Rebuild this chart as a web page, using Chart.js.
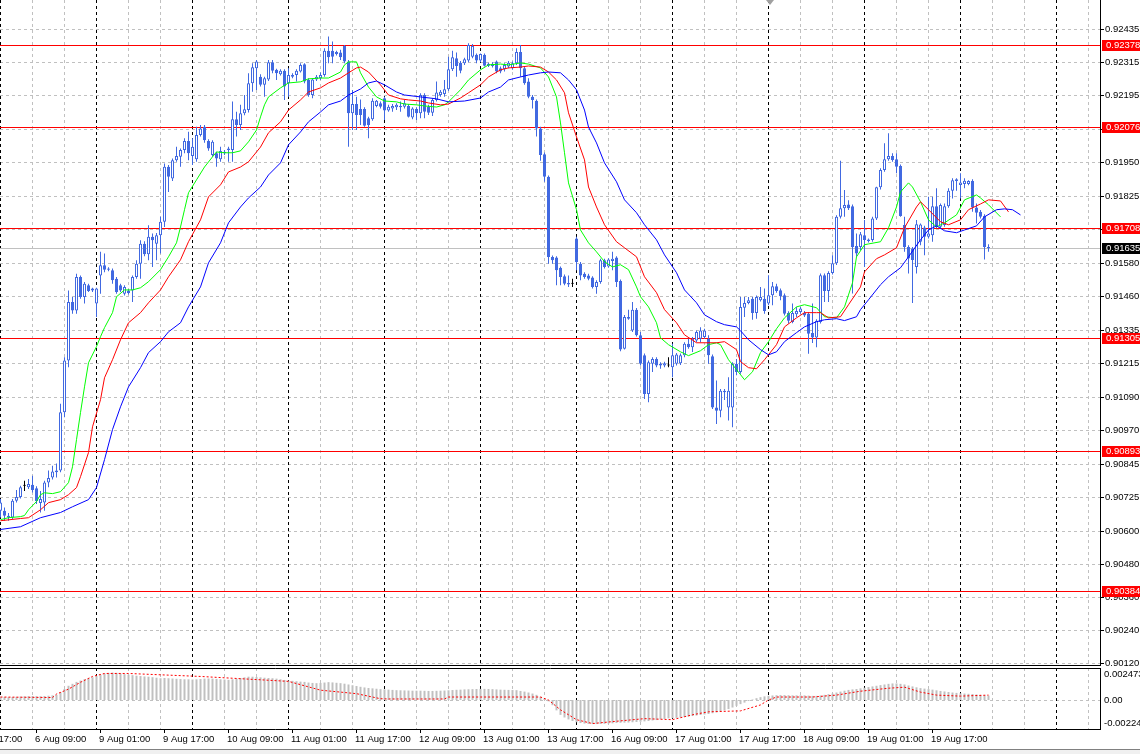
<!DOCTYPE html>
<html>
<head>
<meta charset="utf-8">
<script src="https://cdn.jsdelivr.net/npm/chart.js@4.4.0/dist/chart.umd.min.js"></script>
<style>
  html, body { margin: 0; padding: 0; background: #fff; width: 1140px; height: 754px; overflow: hidden; }
  canvas { position: absolute; left: 0; }
  #main { top: 0; }
  #sub { top: 667px; }
</style>
</head>
<body>
<canvas id="main" width="1140" height="667"></canvas>
<canvas id="sub" width="1140" height="87"></canvas>
<script>
// H1 bars, bar 0 = 6 Aug 00:00
const opens = [
  0.90675,0.90675,0.90657,0.90651,0.90712,0.90726,0.90767,0.90761,0.90770,0.90758,
  0.90704,0.90706,0.90779,0.90797,0.90816,0.90822,0.91035,0.91224,0.91438,0.91407,
  0.91529,0.91456,0.91499,0.91480,0.91432,0.91535,0.91572,0.91556,0.91554,0.91523,
  0.91499,0.91468,0.91480,0.91480,0.91529,0.91578,0.91651,0.91612,0.91676,0.91651,
  0.91682,0.91731,0.91932,0.91889,0.91956,0.91968,0.91993,0.92026,0.91971,0.91959,
  0.92048,0.92078,0.92026,0.91975,0.91981,0.91959,0.91981,0.91993,0.91993,0.92105,
  0.92084,0.92127,0.92139,0.92237,0.92292,0.92261,0.92231,0.92251,0.92314,0.92286,
  0.92270,0.92283,0.92237,0.92267,0.92267,0.92280,0.92306,0.92249,0.92194,0.92251,
  0.92255,0.92267,0.92356,0.92356,0.92351,0.92349,0.92373,0.92316,0.92127,0.92161,
  0.92143,0.92143,0.92109,0.92105,0.92154,0.92164,0.92182,0.92137,0.92145,0.92149,
  0.92154,0.92151,0.92154,0.92112,0.92143,0.92127,0.92194,0.92151,0.92129,0.92176,
  0.92194,0.92198,0.92215,0.92288,0.92328,0.92312,0.92310,0.92320,0.92334,0.92341,
  0.92320,0.92341,0.92301,0.92308,0.92316,0.92292,0.92288,0.92298,0.92292,0.92310,
  0.92351,0.92292,0.92243,0.92188,0.92173,0.92072,0.91978,0.91895,0.91602,0.91600,
  0.91563,0.91532,0.91507,0.91505,0.91670,0.91578,0.91541,0.91535,0.91527,0.91493,
  0.91511,0.91590,0.91568,0.91588,0.91600,0.91515,0.91267,0.91383,0.91334,0.91410,
  0.91316,0.91243,0.91102,0.91212,0.91230,0.91212,0.91206,0.91206,0.91200,0.91212,
  0.91214,0.91243,0.91285,0.91273,0.91297,0.91304,0.91310,0.91304,0.91240,0.91053,
  0.91041,0.91114,0.91053,0.91053,0.91212,0.91182,0.91417,0.91434,0.91450,0.91398,
  0.91444,0.91450,0.91432,0.91463,0.91495,0.91481,0.91463,0.91398,0.91365,0.91393,
  0.91401,0.91398,0.91395,0.91325,0.91308,0.91365,0.91536,0.91478,0.91544,0.91579,
  0.91749,0.91780,0.91794,0.91788,0.91642,0.91639,0.91682,0.91666,0.91664,0.91743,
  0.91857,0.91920,0.91959,0.91971,0.91959,0.91935,0.91719,0.91639,0.91633,0.91566,
  0.91658,0.91710,0.91676,0.91682,0.91788,0.91713,0.91719,0.91788,0.91844,0.91880,
  0.91865,0.91869,0.91869,0.91880,0.91783,0.91768,0.91752,0.91639
];
const highs = [
  0.90718,0.90687,0.90667,0.90718,0.90751,0.90767,0.90785,0.90791,0.90803,0.90765,
  0.90748,0.90785,0.90822,0.90840,0.90848,0.91066,0.91236,0.91480,0.91456,0.91541,
  0.91535,0.91511,0.91505,0.91490,0.91490,0.91621,0.91615,0.91565,0.91560,0.91529,
  0.91505,0.91499,0.91485,0.91535,0.91590,0.91663,0.91660,0.91718,0.91688,0.91690,
  0.91749,0.91944,0.91938,0.91962,0.92005,0.91999,0.92036,0.92060,0.92036,0.92078,
  0.92084,0.92084,0.92032,0.92029,0.91987,0.92005,0.91993,0.92005,0.92170,0.92133,
  0.92158,0.92194,0.92273,0.92310,0.92322,0.92270,0.92261,0.92322,0.92322,0.92290,
  0.92288,0.92288,0.92292,0.92273,0.92288,0.92310,0.92310,0.92255,0.92255,0.92267,
  0.92276,0.92365,0.92408,0.92389,0.92356,0.92359,0.92377,0.92322,0.92212,0.92188,
  0.92178,0.92149,0.92115,0.92182,0.92176,0.92170,0.92188,0.92158,0.92161,0.92164,
  0.92170,0.92176,0.92161,0.92149,0.92149,0.92200,0.92200,0.92158,0.92182,0.92243,
  0.92212,0.92249,0.92334,0.92356,0.92349,0.92318,0.92330,0.92383,0.92380,0.92346,
  0.92346,0.92346,0.92312,0.92314,0.92320,0.92298,0.92310,0.92318,0.92316,0.92365,
  0.92377,0.92298,0.92255,0.92194,0.92178,0.92078,0.91984,0.91900,0.91608,0.91605,
  0.91568,0.91538,0.91535,0.91523,0.91676,0.91584,0.91547,0.91541,0.91532,0.91517,
  0.91596,0.91596,0.91598,0.91621,0.91605,0.91520,0.91390,0.91410,0.91438,0.91416,
  0.91328,0.91250,0.91224,0.91236,0.91236,0.91218,0.91220,0.91236,0.91285,0.91252,
  0.91250,0.91291,0.91304,0.91310,0.91334,0.91346,0.91340,0.91316,0.91246,0.91151,
  0.91120,0.91120,0.91163,0.91218,0.91230,0.91456,0.91456,0.91456,0.91456,0.91462,
  0.91493,0.91487,0.91536,0.91511,0.91505,0.91487,0.91469,0.91404,0.91432,0.91420,
  0.91420,0.91405,0.91401,0.91432,0.91375,0.91542,0.91542,0.91550,0.91609,0.91755,
  0.91954,0.91847,0.91810,0.91794,0.91688,0.91694,0.91737,0.91670,0.91749,0.91859,
  0.91926,0.92018,0.92054,0.91981,0.91981,0.91940,0.91749,0.91645,0.91639,0.91737,
  0.91725,0.91716,0.91822,0.91822,0.91853,0.91798,0.91798,0.91853,0.91890,0.91890,
  0.91908,0.91890,0.91883,0.91886,0.91798,0.91774,0.91758,0.91649
];
const lows = [
  0.90651,0.90639,0.90639,0.90645,0.90706,0.90720,0.90748,0.90755,0.90742,0.90700,
  0.90669,0.90675,0.90761,0.90790,0.90797,0.90816,0.91017,0.91200,0.91395,0.91395,
  0.91450,0.91432,0.91474,0.91474,0.91383,0.91468,0.91547,0.91550,0.91505,0.91468,
  0.91474,0.91462,0.91465,0.91438,0.91523,0.91523,0.91605,0.91590,0.91566,0.91590,
  0.91615,0.91712,0.91840,0.91880,0.91950,0.91932,0.91981,0.91956,0.91938,0.91950,
  0.92042,0.92020,0.91990,0.91968,0.91932,0.91950,0.91975,0.91950,0.91950,0.92042,
  0.92066,0.92120,0.92130,0.92206,0.92212,0.92225,0.92188,0.92245,0.92273,0.92249,
  0.92265,0.92176,0.92188,0.92255,0.92243,0.92276,0.92237,0.92188,0.92182,0.92245,
  0.92249,0.92261,0.92310,0.92310,0.92338,0.92322,0.92310,0.92005,0.92066,0.92066,
  0.92084,0.92078,0.92036,0.92100,0.92149,0.92145,0.92103,0.92133,0.92133,0.92139,
  0.92133,0.92145,0.92112,0.92105,0.92103,0.92109,0.92109,0.92121,0.92117,0.92170,
  0.92188,0.92188,0.92209,0.92282,0.92261,0.92273,0.92304,0.92314,0.92328,0.92310,
  0.92314,0.92298,0.92296,0.92294,0.92273,0.92273,0.92280,0.92292,0.92286,0.92304,
  0.92261,0.92231,0.92182,0.92145,0.92042,0.91954,0.91877,0.91578,0.91578,0.91499,
  0.91499,0.91499,0.91493,0.91493,0.91554,0.91517,0.91523,0.91517,0.91487,0.91468,
  0.91505,0.91560,0.91563,0.91554,0.91493,0.91258,0.91264,0.91373,0.91328,0.91312,
  0.91206,0.91084,0.91072,0.91182,0.91200,0.91194,0.91200,0.91200,0.91163,0.91206,
  0.91208,0.91236,0.91267,0.91255,0.91291,0.91291,0.91304,0.91212,0.91047,0.90992,
  0.91017,0.91080,0.91005,0.90980,0.91170,0.91176,0.91383,0.91430,0.91373,0.91377,
  0.91440,0.91395,0.91426,0.91426,0.91472,0.91444,0.91389,0.91359,0.91360,0.91383,
  0.91395,0.91383,0.91249,0.91288,0.91273,0.91359,0.91438,0.91438,0.91538,0.91573,
  0.91743,0.91749,0.91774,0.91469,0.91603,0.91627,0.91566,0.91655,0.91658,0.91737,
  0.91849,0.91914,0.91954,0.91950,0.91908,0.91749,0.91621,0.91542,0.91434,0.91542,
  0.91645,0.91609,0.91670,0.91658,0.91707,0.91707,0.91713,0.91782,0.91816,0.91844,
  0.91816,0.91853,0.91864,0.91768,0.91725,0.91743,0.91593,0.91621
];
const closes = [
  0.90706,0.90657,0.90651,0.90712,0.90726,0.90761,0.90767,0.90773,0.90751,0.90710,
  0.90718,0.90779,0.90795,0.90819,0.90822,0.91035,0.91224,0.91438,0.91407,0.91529,
  0.91456,0.91505,0.91478,0.91487,0.91487,0.91572,0.91556,0.91560,0.91517,0.91474,
  0.91480,0.91493,0.91471,0.91529,0.91578,0.91651,0.91612,0.91676,0.91663,0.91682,
  0.91731,0.91932,0.91895,0.91956,0.91971,0.91993,0.92026,0.91981,0.92005,0.92048,
  0.92072,0.92029,0.91999,0.92023,0.91962,0.91989,0.91987,0.91999,0.92105,0.92084,
  0.92127,0.92142,0.92237,0.92295,0.92316,0.92231,0.92255,0.92314,0.92283,0.92273,
  0.92283,0.92225,0.92267,0.92261,0.92283,0.92304,0.92243,0.92194,0.92251,0.92261,
  0.92267,0.92356,0.92332,0.92334,0.92344,0.92332,0.92316,0.92127,0.92161,0.92121,
  0.92121,0.92082,0.92084,0.92173,0.92173,0.92151,0.92137,0.92151,0.92154,0.92158,
  0.92149,0.92164,0.92115,0.92145,0.92127,0.92194,0.92133,0.92129,0.92176,0.92203,
  0.92206,0.92215,0.92288,0.92332,0.92300,0.92283,0.92325,0.92377,0.92373,0.92320,
  0.92344,0.92301,0.92308,0.92300,0.92280,0.92280,0.92304,0.92312,0.92310,0.92351,
  0.92292,0.92237,0.92188,0.92176,0.92072,0.91975,0.91895,0.91602,0.91590,0.91554,
  0.91529,0.91505,0.91502,0.91505,0.91584,0.91535,0.91529,0.91523,0.91493,0.91511,
  0.91590,0.91566,0.91593,0.91596,0.91511,0.91264,0.91383,0.91377,0.91410,0.91316,
  0.91212,0.91102,0.91218,0.91230,0.91206,0.91206,0.91214,0.91206,0.91243,0.91246,
  0.91243,0.91285,0.91273,0.91304,0.91328,0.91334,0.91334,0.91243,0.91053,0.91041,
  0.91114,0.91108,0.91114,0.91212,0.91182,0.91420,0.91434,0.91444,0.91398,0.91456,
  0.91456,0.91405,0.91463,0.91495,0.91478,0.91459,0.91395,0.91369,0.91398,0.91405,
  0.91414,0.91389,0.91322,0.91308,0.91369,0.91536,0.91478,0.91544,0.91579,0.91749,
  0.91780,0.91792,0.91780,0.91639,0.91615,0.91685,0.91664,0.91661,0.91743,0.91857,
  0.91920,0.91959,0.91971,0.91957,0.91932,0.91752,0.91639,0.91597,0.91591,0.91722,
  0.91721,0.91676,0.91688,0.91788,0.91713,0.91792,0.91788,0.91844,0.91883,0.91886,
  0.91874,0.91881,0.91880,0.91783,0.91764,0.91749,0.91639,0.91635
];

// Alligator lines (already shifted forward), read every few bars
const jawBars = [0,5,10,15,18,22,24,26,28,30,32,35,37,40,42,45,47,50,52,55,57,60,62,65,67,70,72,75,77,80,82,85,87,90,92,94,96,99,101,105,109,112,116,120,122,125,127,130,132,135,137,140,142,144,146,147,149,151,154,156,159,161,164,166,169,171,174,176,179,181,184,185,187,190,192,194,196,199,201,204,206,209,211,214,215,217,220,222,225,227,230,232,234,236,239,241,244,246,249,251,253,255];
const jawVals = [0.90607,0.90617,0.90650,0.90669,0.90690,0.90716,0.90760,0.90862,0.90972,0.91055,0.91128,0.91198,0.91253,0.91293,0.91329,0.91362,0.91420,0.91493,0.91581,0.91654,0.91727,0.91785,0.91818,0.91858,0.91902,0.91946,0.92012,0.92059,0.92096,0.92132,0.92158,0.92172,0.92194,0.92216,0.92238,0.92245,0.92231,0.92205,0.92194,0.92187,0.92180,0.92169,0.92172,0.92183,0.92205,0.92223,0.92249,0.92260,0.92267,0.92275,0.92278,0.92275,0.92249,0.92213,0.92139,0.92077,0.92019,0.91946,0.91877,0.91811,0.91764,0.91720,0.91665,0.91610,0.91545,0.91482,0.91435,0.91391,0.91366,0.91355,0.91347,0.91333,0.91300,0.91264,0.91245,0.91256,0.91293,0.91326,0.91347,0.91366,0.91373,0.91377,0.91370,0.91384,0.91410,0.91446,0.91501,0.91530,0.91563,0.91603,0.91665,0.91701,0.91716,0.91698,0.91691,0.91701,0.91716,0.91749,0.91775,0.91778,0.91775,0.91756];
const teethBars = [0,5,7,10,12,15,17,19,20,22,23,25,26,28,30,32,35,37,40,42,45,47,50,52,55,57,60,62,65,67,70,72,75,77,80,82,85,87,89,90,92,95,97,100,102,105,107,110,112,115,117,120,122,125,127,130,132,135,137,139,141,142,144,146,147,149,151,154,156,159,161,164,166,169,171,174,176,179,181,184,185,187,189,191,194,196,199,201,204,205,207,210,212,215,216,219,221,224,226,229,230,232,235,237,240,242,245,247,250,252];
const teethVals = [0.90639,0.90647,0.90650,0.90679,0.90705,0.90716,0.90734,0.90760,0.90800,0.90888,0.90982,0.91081,0.91161,0.91227,0.91300,0.91362,0.91399,0.91435,0.91482,0.91530,0.91592,0.91658,0.91738,0.91822,0.91866,0.91913,0.91931,0.91950,0.92004,0.92056,0.92096,0.92139,0.92176,0.92205,0.92220,0.92238,0.92256,0.92275,0.92293,0.92296,0.92278,0.92231,0.92194,0.92180,0.92176,0.92172,0.92165,0.92158,0.92161,0.92183,0.92202,0.92231,0.92260,0.92286,0.92293,0.92296,0.92300,0.92296,0.92278,0.92249,0.92202,0.92129,0.92041,0.91957,0.91858,0.91785,0.91720,0.91658,0.91636,0.91603,0.91530,0.91472,0.91410,0.91362,0.91318,0.91289,0.91289,0.91289,0.91293,0.91264,0.91220,0.91198,0.91194,0.91227,0.91282,0.91347,0.91380,0.91399,0.91399,0.91399,0.91380,0.91384,0.91428,0.91493,0.91548,0.91596,0.91610,0.91636,0.91709,0.91785,0.91804,0.91775,0.91731,0.91720,0.91738,0.91775,0.91796,0.91811,0.91807,0.91767];
const lipsBars = [0,2,5,6,7,9,10,11,13,15,17,18,19,20,21,22,24,25,26,28,29,31,33,35,37,40,42,44,45,46,47,49,51,53,54,56,58,60,62,64,65,66,67,70,72,75,77,80,82,85,86,87,89,90,92,94,96,99,101,104,106,109,111,112,115,117,120,122,125,127,130,132,135,137,139,140,141,142,144,145,147,149,151,153,155,157,159,160,162,164,165,167,170,172,175,177,179,180,182,184,186,188,190,192,194,196,199,201,204,206,209,211,213,214,216,217,220,222,224,225,227,228,230,232,234,236,239,241,244,245,247,250];
const lipsVals = [0.90643,0.90650,0.90654,0.90658,0.90679,0.90709,0.90734,0.90741,0.90738,0.90745,0.90778,0.90836,0.90935,0.91034,0.91128,0.91216,0.91275,0.91311,0.91344,0.91399,0.91457,0.91482,0.91482,0.91490,0.91512,0.91556,0.91603,0.91654,0.91712,0.91775,0.91837,0.91884,0.91931,0.91968,0.91986,0.91983,0.91983,0.91990,0.92023,0.92066,0.92114,0.92158,0.92187,0.92220,0.92238,0.92242,0.92253,0.92256,0.92256,0.92278,0.92304,0.92315,0.92315,0.92275,0.92223,0.92187,0.92172,0.92169,0.92161,0.92158,0.92154,0.92150,0.92158,0.92169,0.92213,0.92249,0.92286,0.92304,0.92307,0.92304,0.92311,0.92307,0.92293,0.92260,0.92187,0.92092,0.91983,0.91873,0.91775,0.91701,0.91654,0.91621,0.91585,0.91566,0.91574,0.91556,0.91493,0.91457,0.91420,0.91362,0.91307,0.91282,0.91256,0.91242,0.91260,0.91282,0.91289,0.91282,0.91227,0.91191,0.91154,0.91183,0.91253,0.91293,0.91340,0.91380,0.91420,0.91428,0.91417,0.91384,0.91380,0.91420,0.91508,0.91603,0.91647,0.91650,0.91658,0.91709,0.91785,0.91840,0.91873,0.91858,0.91804,0.91738,0.91712,0.91727,0.91756,0.91811,0.91829,0.91818,0.91793,0.91749];

// horizontal levels and current bid
const levelPrices = [0.92378, 0.92076, 0.91708, 0.91305, 0.90893, 0.90384];
const bidPrice = 0.91635;

// price scale labels
const priceLabels = ['0.92435','0.92315','0.92195','0.92070','0.91950','0.91825','0.91705','0.91580','0.91460','0.91335',
                     '0.91215','0.91090','0.90970','0.90845','0.90725','0.90600','0.90480','0.90360','0.90240','0.90120'];

// MACD histogram, one value per bar
const macdMain = [
  0.00025,0.00024,0.00022,0.00023,0.00025,0.00027,0.00029,0.00030,0.00031,0.00030,
  0.00029,0.00031,0.00033,0.00036,0.00040,0.00060,0.00085,0.00110,0.00125,0.00140,
  0.00150,0.00160,0.00168,0.00176,0.00185,0.00195,0.00205,0.00210,0.00212,0.00210,
  0.00205,0.00200,0.00196,0.00192,0.00188,0.00185,0.00182,0.00180,0.00176,0.00172,
  0.00168,0.00170,0.00168,0.00166,0.00164,0.00162,0.00160,0.00160,0.00158,0.00160,
  0.00162,0.00165,0.00166,0.00165,0.00163,0.00160,0.00158,0.00156,0.00160,0.00165,
  0.00170,0.00175,0.00180,0.00180,0.00178,0.00175,0.00172,0.00170,0.00168,0.00165,
  0.00160,0.00155,0.00150,0.00148,0.00145,0.00142,0.00140,0.00135,0.00132,0.00130,
  0.00132,0.00135,0.00138,0.00136,0.00133,0.00130,0.00126,0.00120,0.00114,0.00108,
  0.00102,0.00097,0.00093,0.00090,0.00087,0.00084,0.00082,0.00080,0.00078,0.00076,
  0.00075,0.00074,0.00073,0.00072,0.00072,0.00072,0.00071,0.00070,0.00070,0.00071,
  0.00072,0.00073,0.00075,0.00077,0.00079,0.00080,0.00082,0.00083,0.00084,0.00085,
  0.00086,0.00086,0.00085,0.00084,0.00082,0.00080,0.00079,0.00078,0.00077,0.00076,
  0.00070,0.00065,0.00058,0.00050,0.00040,0.00025,0.00010,-0.00010,-0.00040,-0.00080,
  -0.00115,-0.00135,-0.00150,-0.00162,-0.00172,-0.00178,-0.00182,-0.00185,-0.00186,-0.00186,
  -0.00185,-0.00184,-0.00182,-0.00180,-0.00178,-0.00176,-0.00175,-0.00174,-0.00172,-0.00170,
  -0.00168,-0.00165,-0.00162,-0.00158,-0.00155,-0.00150,-0.00146,-0.00142,-0.00140,-0.00138,
  -0.00135,-0.00132,-0.00128,-0.00124,-0.00120,-0.00116,-0.00112,-0.00108,-0.00102,-0.00096,
  -0.00088,-0.00080,-0.00070,-0.00058,-0.00045,-0.00032,-0.00020,-0.00008,0.00004,0.00014,
  0.00022,0.00028,0.00032,0.00035,0.00037,0.00038,0.00038,0.00037,0.00036,0.00036,
  0.00036,0.00036,0.00034,0.00032,0.00032,0.00035,0.00040,0.00045,0.00050,0.00058,
  0.00065,0.00072,0.00078,0.00082,0.00085,0.00090,0.00095,0.00100,0.00105,0.00110,
  0.00115,0.00120,0.00125,0.00128,0.00128,0.00125,0.00120,0.00112,0.00105,0.00098,
  0.00092,0.00088,0.00084,0.00080,0.00075,0.00070,0.00066,0.00062,0.00058,0.00055,
  0.00052,0.00050,0.00048,0.00046,0.00043,0.00040,0.00036,0.00034
];
const signalBars = [0,13,14,17,20,23,26,32,50,72,80,89,95,97,111,112,120,135,137,140,144,148,153,161,168,173,177,185,190,192,194,203,209,215,222,226,230,234,240,247];
const signalVals = [0.00023,0.00019,0.00046,0.00084,0.00137,0.00182,0.00205,0.00205,0.00182,0.00144,0.00076,0.00049,0.00010,0.00008,0.00008,0.00023,0.00023,0.00023,0.00000,-0.00076,-0.00152,-0.00182,-0.00167,-0.00144,-0.00152,-0.00114,-0.00091,-0.00084,-0.00038,0.00000,0.00023,0.00023,0.00038,0.00068,0.00091,0.00099,0.00061,0.00038,0.00030,0.00038];
const macdTopLabel = '0.002473';
const macdBottomLabel = '-0.00224';

// time axis labels
const timeLabelBars = [-7, 9, 25, 41, 57, 73, 89, 105, 121, 137, 153, 169, 185, 201, 217, 233];
const timeLabels = ['5 Aug 17:00','6 Aug 09:00','9 Aug 01:00','9 Aug 17:00','10 Aug 09:00','11 Aug 01:00',
  '11 Aug 17:00','12 Aug 09:00','13 Aug 01:00','13 Aug 17:00','16 Aug 09:00','17 Aug 01:00',
  '17 Aug 17:00','18 Aug 09:00','19 Aug 01:00','19 Aug 17:00'];

const FONT = '9.5px "Liberation Sans", Arial, sans-serif';
const BLUE = '#4169e1';
const GRID = '#c0c0c0';
const X_MIN = -0.125, X_MAX = 274.875;

function hline(ctx, x0, x1, y) { ctx.beginPath(); ctx.moveTo(x0, y); ctx.lineTo(x1, y); ctx.stroke(); }
function vline(ctx, x, y0, y1) { ctx.beginPath(); ctx.moveTo(x, y0); ctx.lineTo(x, y1); ctx.stroke(); }

function drawTimeGrid(ctx, x, top, bottom) {
  ctx.setLineDash([3, 3]);
  for (let b = 0; b <= X_MAX; b += 8) {
    ctx.strokeStyle = b % 24 === 0 ? '#000000' : GRID;
    vline(ctx, x.getPixelForValue(b), top, bottom);
  }
}

function labelBox(ctx, xLeft, py, fill, text) {
  ctx.fillStyle = fill;
  ctx.fillRect(xLeft, Math.round(py) - 5, 40, 11);
  ctx.fillStyle = '#ffffff';
  ctx.fillText(text, xLeft + 4, Math.round(py) + 0.5);
}

const mainDecor = {
  id: 'mainDecor',
  beforeDatasetsDraw(chart) {
    const { ctx, chartArea: a, scales: { x, y } } = chart;
    ctx.save();
    ctx.lineWidth = 1;
    ctx.setLineDash([3, 3]);
    ctx.strokeStyle = GRID;
    priceLabels.forEach(t => hline(ctx, a.left, a.right, Math.round(y.getPixelForValue(parseFloat(t))) + 0.5));
    drawTimeGrid(ctx, x, a.top, a.bottom);
    ctx.setLineDash([]);
    ctx.strokeStyle = '#c0c0c0';
    hline(ctx, a.left, a.right, Math.round(y.getPixelForValue(bidPrice)) + 0.5);
    ctx.strokeStyle = '#ff0000';
    levelPrices.forEach(v => hline(ctx, a.left, a.right, Math.round(y.getPixelForValue(v)) + 0.5));
    ctx.restore();
  },
  afterDraw(chart) {
    const { ctx, chartArea: a, scales: { y } } = chart;
    ctx.save();
    ctx.lineWidth = 1;
    ctx.font = FONT;
    ctx.textBaseline = 'middle';
    ctx.textAlign = 'left';
    ctx.strokeStyle = '#000';
    ctx.fillStyle = '#000';
    priceLabels.forEach(t => {
      const py = Math.round(y.getPixelForValue(parseFloat(t))) + 0.5;
      hline(ctx, a.right, a.right + 4, py);
      ctx.fillText(t, a.right + 5, py);
    });
    levelPrices.forEach(v => labelBox(ctx, a.right + 2, y.getPixelForValue(v), '#ff0000', v.toFixed(5)));
    labelBox(ctx, a.right + 2, y.getPixelForValue(bidPrice), '#000000', bidPrice.toFixed(5));
    ctx.strokeStyle = '#000';
    vline(ctx, a.right + 0.5, 0, a.bottom + 1);
    hline(ctx, 0, a.right + 1, a.bottom + 0.5);
    // chart shift marker
    ctx.fillStyle = '#a0a0a0';
    ctx.beginPath(); ctx.moveTo(766, 0); ctx.lineTo(774, 0); ctx.lineTo(770, 5); ctx.closePath(); ctx.fill();
    ctx.restore();
  }
};

const subDecor = {
  id: 'subDecor',
  beforeDatasetsDraw(chart) {
    const { ctx, chartArea: a, scales: { x, y } } = chart;
    ctx.save();
    ctx.lineWidth = 1;
    ctx.setLineDash([3, 3]);
    ctx.strokeStyle = GRID;
    hline(ctx, a.left, a.right, Math.round(y.getPixelForValue(0)) + 0.5);
    drawTimeGrid(ctx, x, a.top, a.bottom);
    ctx.restore();
  },
  afterDraw(chart) {
    const { ctx, chartArea: a, scales: { x, y } } = chart;
    ctx.save();
    ctx.lineWidth = 1;
    ctx.strokeStyle = '#000';
    hline(ctx, 0, a.right + 1, a.top + 0.5);
    hline(ctx, 0, a.right + 1, a.bottom + 0.5);
    vline(ctx, a.right + 0.5, a.top, a.bottom + 1);
    ctx.font = FONT;
    ctx.textBaseline = 'middle';
    ctx.fillStyle = '#000';
    ctx.fillText(macdTopLabel, a.right + 4, y.getPixelForValue(y.max) + 6);
    ctx.fillText('0.00', a.right + 4, y.getPixelForValue(0) + 0.5);
    ctx.fillText(macdBottomLabel, a.right + 4, y.getPixelForValue(y.min) - 6);
    timeLabelBars.forEach((b, k) => {
      const px = x.getPixelForValue(b);
      vline(ctx, px, a.bottom, a.bottom + 4);
      ctx.fillText(timeLabels[k], px - 1.5, a.bottom + 10);
    });
    ctx.fillStyle = '#808080';
    ctx.fillRect(0, 82, 1140, 1);
    ctx.fillStyle = '#f0f0f0';
    ctx.fillRect(0, 83, 1140, 4);
    ctx.restore();
  }
};

const idx = opens.map((_, i) => i);
const candleColor = idx.map(i => opens[i] === closes[i] ? '#000000' : BLUE);
const bodyFill = idx.map(i => closes[i] > opens[i] ? '#ffffff' : candleColor[i]);

const fixedWidth = s => { s.width = 40; };

new Chart(document.getElementById('main'), {
  type: 'bar',
  data: {
    datasets: [
      { type: 'line', data: jawBars.map((b, k) => ({ x: b, y: jawVals[k] })), borderColor: '#0000ff', borderWidth: 1, pointRadius: 0, tension: 0, order: 0 },
      { type: 'line', data: teethBars.map((b, k) => ({ x: b, y: teethVals[k] })), borderColor: '#ff0000', borderWidth: 1, pointRadius: 0, tension: 0, order: 0 },
      { type: 'line', data: lipsBars.map((b, k) => ({ x: b, y: lipsVals[k] })), borderColor: '#00ff00', borderWidth: 1, pointRadius: 0, tension: 0, order: 0 },
      { data: idx.map(i => ({ x: i, y: [opens[i], closes[i]] })), backgroundColor: bodyFill, borderColor: candleColor,
        borderWidth: 1, borderSkipped: false, barThickness: 3, minBarLength: 1, grouped: false, inflateAmount: 0, order: 1 },
      { data: idx.map(i => ({ x: i, y: [lows[i], highs[i]] })), backgroundColor: candleColor,
        borderWidth: 0, barThickness: 1, grouped: false, inflateAmount: 0, order: 2 }
    ]
  },
  options: {
    responsive: false, animation: false, devicePixelRatio: 1,
    layout: { padding: { left: 0, right: 0, top: 0, bottom: 2 } },
    plugins: { legend: { display: false }, tooltip: { enabled: false } },
    scales: {
      x: { type: 'linear', min: X_MIN, max: X_MAX, offset: false, display: false },
      y: { position: 'right', min: 0.90112, max: 0.92541, afterFit: fixedWidth,
           ticks: { display: false }, grid: { display: false }, border: { display: false } }
    }
  },
  plugins: [mainDecor]
});

new Chart(document.getElementById('sub'), {
  type: 'bar',
  data: {
    datasets: [
      { type: 'line', data: signalBars.map((b, k) => ({ x: b, y: signalVals[k] })), borderColor: '#ff0000', borderWidth: 1,
        borderDash: [2, 2], pointRadius: 0, tension: 0, order: 0 },
      { data: macdMain.map((v, i) => ({ x: i, y: v })), backgroundColor: '#c0c0c0', borderWidth: 0,
        barThickness: 2, grouped: false, inflateAmount: 0, order: 1 }
    ]
  },
  options: {
    responsive: false, animation: false, devicePixelRatio: 1,
    layout: { padding: { left: 0, right: 0, top: 1, bottom: 25 } },
    plugins: { legend: { display: false }, tooltip: { enabled: false } },
    scales: {
      x: { type: 'linear', min: X_MIN, max: X_MAX, offset: false, display: false },
      y: { position: 'right', min: -0.00224, max: 0.002473, afterFit: fixedWidth,
           ticks: { display: false }, grid: { display: false }, border: { display: false } }
    }
  },
  plugins: [subDecor]
});
</script>
</body>
</html>
